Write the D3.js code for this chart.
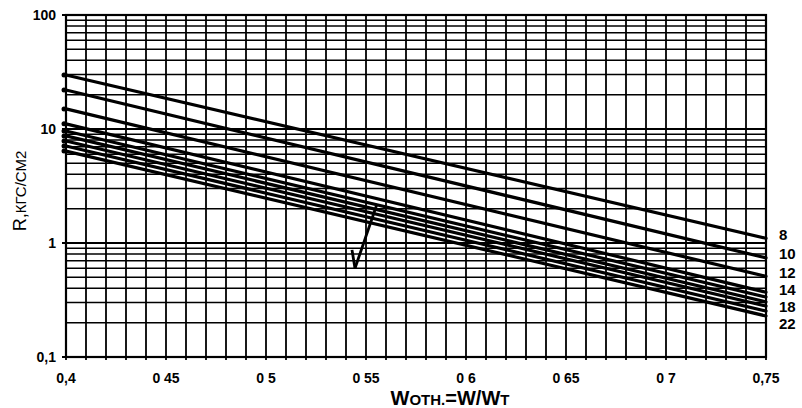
<!DOCTYPE html>
<html><head><meta charset="utf-8">
<script src="https://cdn.jsdelivr.net/npm/d3@7"></script>
<style>body{margin:0;background:#fff}svg{display:block}</style>
</head><body><svg id="c" width="802" height="408"></svg>
<script>
// ---- data ----
const xStart = 0.4, xEnd = 0.75;
const startValues = [29.8, 22.0, 15.0, 11.1, 9.6, 8.7, 7.85, 7.1, 6.4];
const endValues   = [1.10, 0.74, 0.51, 0.37, 0.336, 0.304, 0.28, 0.253, 0.229];
const lineLabels  = ["8", "10", "12", "14", "", "", "18", "", "22"];
const xTickValues = [0.4, 0.45, 0.5, 0.55, 0.6, 0.65, 0.7, 0.75];
const xTickLabels = ["0,4", "0 45", "0 5", "0 55", "0 6", "0 65", "0 7", "0,75"];
const yTickValues = [0.1, 1, 10, 100];
const yTickLabels = ["0,1", "1", "10", "100"];
const arrowPath = [[0.5555, 2.2], [0.5445, 0.6]];
const arrowHead = [[0.543, 0.87], [0.5445, 0.6]];

// ---- layout ----
const svg = d3.select("#c");
const m = {l: 66, r: 766, t: 15, b: 357};
const x = d3.scaleLinear().domain([xStart, xEnd]).range([m.l, m.r]);
const y = d3.scaleLog().domain([0.1, 100]).range([m.b, m.t]);
const FONT = "Liberation Sans, Arial, sans-serif";

const g = svg.append("g");
// vertical grid every 0.01
const vg = d3.range(0, 36).map(i => +(xStart + i * 0.01).toFixed(2));
g.selectAll("line.vg").data(vg).join("line")
  .attr("x1", d => x(d)).attr("x2", d => x(d))
  .attr("y1", m.t).attr("y2", m.b + 3)
  .attr("stroke", "#000").attr("stroke-width", 1.8);
// horizontal log grid
const hg = [];
[0.1, 1, 10].forEach(dec => { for (let k = 1; k <= 9; k++) hg.push(dec * k); });
hg.push(100);
g.selectAll("line.hg").data(hg).join("line")
  .attr("x1", m.l).attr("x2", m.r)
  .attr("y1", d => y(d)).attr("y2", d => y(d))
  .attr("stroke", "#000").attr("stroke-width", d => (yTickValues.includes(+d.toFixed(3)) ? 2 : 1.5));
// frame
g.append("rect").attr("x", m.l).attr("y", m.t).attr("width", m.r - m.l).attr("height", m.b - m.t)
  .attr("fill", "none").attr("stroke", "#000").attr("stroke-width", 2.2);
// y tick marks
g.selectAll("line.yt").data(yTickValues).join("line")
  .attr("x1", m.l - 4).attr("x2", m.l).attr("y1", d => y(d)).attr("y2", d => y(d))
  .attr("stroke", "#000").attr("stroke-width", 2);

// axes labels
svg.selectAll("text.yl").data(yTickValues).join("text")
  .attr("x", m.l - 10).attr("y", d => y(d) + 5)
  .attr("text-anchor", "end").attr("font-family", FONT)
  .attr("font-weight", "bold").attr("font-size", 14)
  .text((d, i) => yTickLabels[i]);
svg.selectAll("text.xl").data(xTickValues).join("text")
  .attr("x", d => x(d)).attr("y", 383)
  .attr("text-anchor", "middle").attr("font-family", FONT)
  .attr("font-weight", "bold").attr("font-size", 14)
  .text((d, i) => xTickLabels[i]);

// series lines
const line = d3.line().x(d => x(d[0])).y(d => y(d[1]));
const series = startValues.map((s, i) => [[xStart, s], [xEnd, endValues[i]]]);
g.selectAll("path.s").data(series).join("path")
  .attr("d", line).attr("fill", "none").attr("stroke", "#000").attr("stroke-width", 3.2)
  .attr("stroke-linecap", "round");
g.selectAll("circle.s").data(series).join("circle")
  .attr("cx", d => x(d[0][0]) - 2).attr("cy", d => y(d[0][1])).attr("r", 2.5).attr("fill", "#000");

// arrow
g.append("path").attr("d", line(arrowPath)).attr("stroke", "#000").attr("stroke-width", 2.8).attr("fill", "none");
g.append("path").attr("d", line(arrowHead)).attr("stroke", "#000").attr("stroke-width", 2.8).attr("fill", "none");

// right-side labels
let prev = -Infinity;
const lab = [];
series.forEach((s, i) => {
  if (!lineLabels[i]) return;
  let yy = Math.max(y(s[1][1]) - 4, prev + 17);
  prev = yy;
  lab.push({t: lineLabels[i], y: yy});
});
svg.selectAll("text.rl").data(lab).join("text")
  .attr("x", m.r + 13).attr("y", d => d.y + 5.5)
  .attr("font-family", FONT).attr("font-weight", "bold")
  .attr("font-size", 15).text(d => d.t);

// x title
const xt = svg.append("text").attr("x", 450).attr("y", 405).attr("text-anchor", "middle")
  .attr("font-family", FONT).attr("font-weight", "bold");
xt.append("tspan").attr("font-size", 20).text("W");
xt.append("tspan").attr("font-size", 15).text("ОТН.");
xt.append("tspan").attr("font-size", 20).text("=W/W");
xt.append("tspan").attr("font-size", 15).text("Т");

// y title
const yt = svg.append("text").attr("transform", "translate(26,191) rotate(-90)").attr("text-anchor", "middle")
  .attr("font-family", FONT);
yt.append("tspan").attr("font-size", 18).text("R,");
yt.append("tspan").attr("font-size", 15).text("КГС/СМ2");
</script></body></html>
